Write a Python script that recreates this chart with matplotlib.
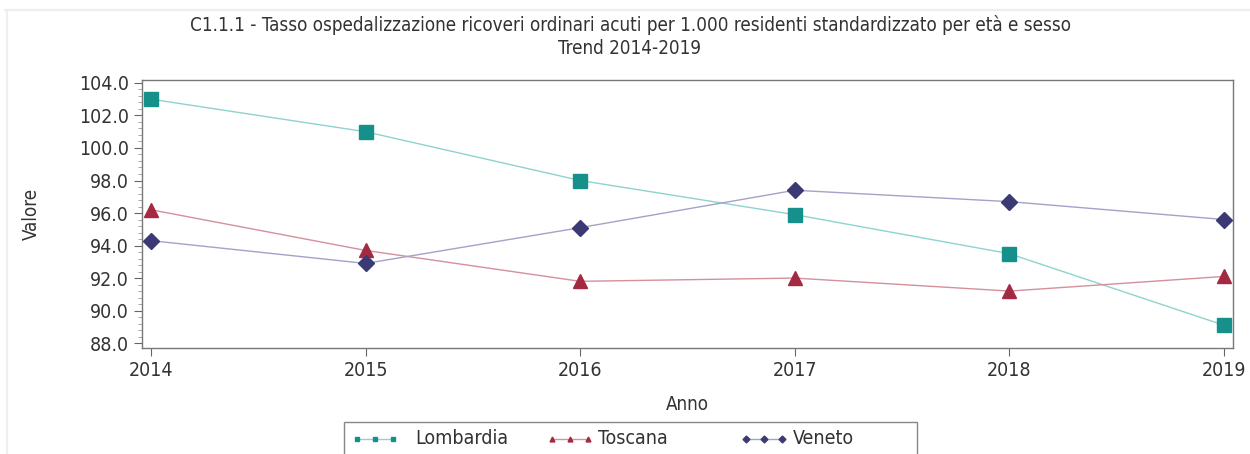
import matplotlib
matplotlib.use("Agg")
import matplotlib.pyplot as plt
from matplotlib.ticker import MultipleLocator, FormatStrFormatter
from matplotlib.patches import Rectangle
from matplotlib.lines import Line2D

years = [2014, 2015, 2016, 2017, 2018, 2019]
lombardia = [103.0, 101.0, 98.0, 95.9, 93.5, 89.1]
toscana = [96.2, 93.7, 91.8, 92.0, 91.2, 92.1]
veneto = [94.3, 92.9, 95.1, 97.4, 96.7, 95.6]

plt.rcParams['font.family'] = ['DejaVu Sans']
plt.rcParams['font.stretch'] = 'condensed'
txt = '#333333'

fig = plt.figure(figsize=(12.5, 4.54), dpi=100)
ax = fig.add_axes([142/1250, 1-348/454, (1233-142)/1250, (348-80)/454])

series = [
    ("Lombardia", lombardia, 's', '#15908a', '#8fd3ce', 10),
    ("Toscana", toscana, '^', '#a32a40', '#d4909c', 10),
    ("Veneto", veneto, 'D', '#3b3a74', '#a3a2c8', 8),
]
for name, vals, m, mc, lc, ms in series:
    ax.plot(years, vals, color=lc, lw=1.0, zorder=2)
    ax.plot(years, vals, ls='none', marker=m, ms=ms, color=mc, mec=mc, zorder=3)

ax.set_xlim(2013.958, 2019.042)
ax.set_ylim(87.7, 104.18)
ax.set_xticks(years)
ax.yaxis.set_major_locator(MultipleLocator(2))
ax.yaxis.set_minor_locator(MultipleLocator(0.4))
ax.yaxis.set_major_formatter(FormatStrFormatter('%.1f'))
for s in ax.spines.values():
    s.set_color('#777777')
    s.set_linewidth(1)
ax.tick_params(axis='both', which='major', labelsize=14, colors='#666666', labelcolor=txt, length=6)
ax.tick_params(axis='y', which='minor', length=3, colors='#999999')
ax.set_xlabel("Anno", fontsize=13.5, color=txt, labelpad=11)
ax.set_ylabel("Valore", fontsize=13.5, color=txt, labelpad=27)

fig.text(0.504, 1-25/454, "C1.1.1 - Tasso ospedalizzazione ricoveri ordinari acuti per 1.000 residenti standardizzato per età e sesso",
         ha='center', va='center', fontsize=13.5, color=txt)
fig.text(0.504, 1-48/454, "Trend 2014-2019", ha='center', va='center', fontsize=13.5, color=txt)

# page frame (top and left edges only)
fig.add_artist(Line2D([5/1250, 1], [1-9.5/454, 1-9.5/454], transform=fig.transFigure,
                      color='#eeeeee', lw=1.6))
fig.add_artist(Line2D([6.5/1250, 6.5/1250], [0, 1-9.5/454], transform=fig.transFigure,
                      color='#eeeeee', lw=1.6))

# legend box
fig.patches.append(Rectangle((344/1250, -0.05), (917-344)/1250, 0.05+1-422/454,
                             transform=fig.transFigure, fill=False, edgecolor='#888888', lw=1))
leg_items = [(357, 415, "Lombardia", series[0]), (552, 598, "Toscana", series[1]), (746, 793, "Veneto", series[2])]
ly = 1-439/454
for x0, tx, name, (n, v, m, mc, lc, ms) in leg_items:
    xs = [x0/1250, (x0+18)/1250, (x0+36)/1250]
    fig.add_artist(Line2D(xs, [ly]*3, transform=fig.transFigure, color=lc, lw=1,
                          marker=m, ms=3.5, mfc=mc, mec=mc))
    fig.text(tx/1250, ly, name, ha='left', va='center', fontsize=14, color=txt)

fig.savefig("out.png", dpi=100)
